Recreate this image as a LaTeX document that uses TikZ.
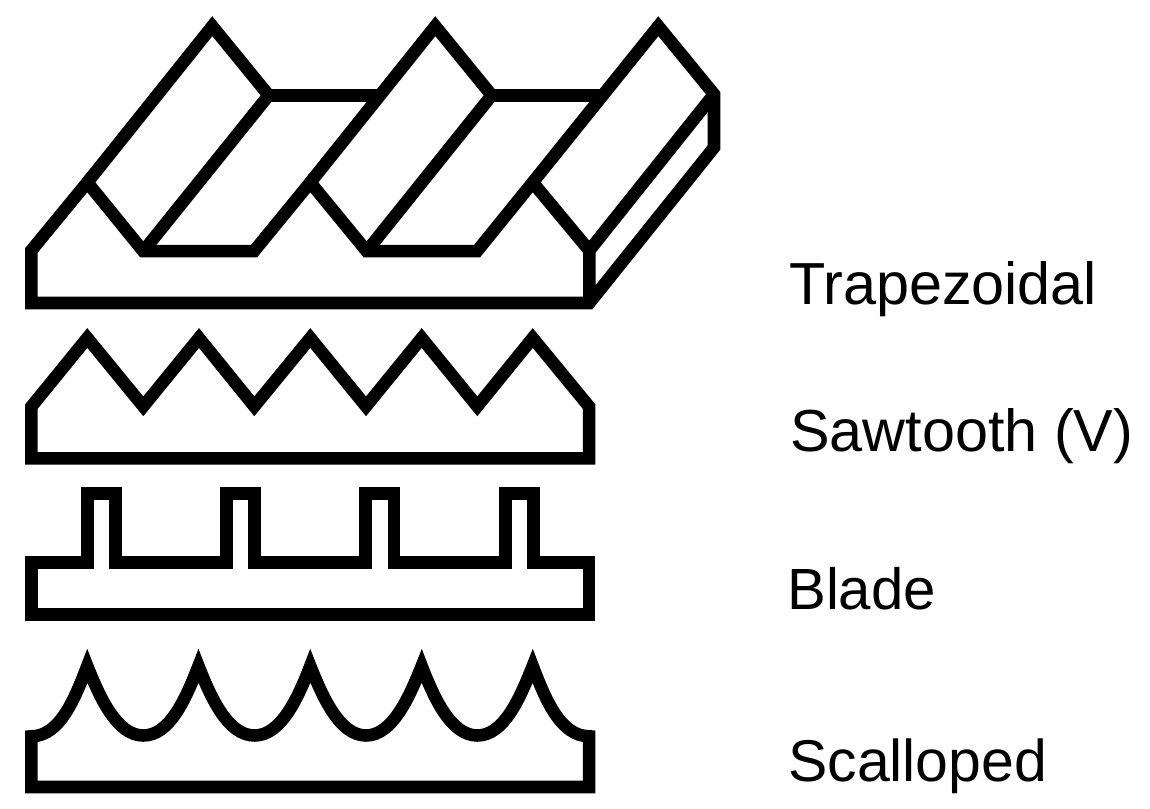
\documentclass[tikz,border=0pt]{standalone}
\usepackage{fontspec}
\setmainfont{Liberation Sans}
\tikzset{ln/.style={line width=9.4pt,line join=miter,miter limit=10,black},lab/.style={anchor=base west,font=\fontsize{44.5}{50}\selectfont,inner sep=0pt}}
\begin{document}
\begin{tikzpicture}[x=0.75pt,y=-0.75pt]
\useasboundingbox (0,0) rectangle (1150,808);
% trapezoidal
\draw[ln] (532.7,182.4) -- (658.3,26.2) -- (714,94.2) -- (714,147.5) -- (589.3,303) -- (31.3,303) -- (31.3,250.5) -- (87.3,182.4) -- (143.3,251.2) -- (254,251.2) -- (310.3,182.4) -- (366.7,251.2) -- (477,251.2) -- (532.7,182.4) -- (589.3,250.5) -- (589.3,303);
\draw[ln] (87.3,182.4) -- (212.3,26.2) -- (268.7,95.3) -- (143.3,251.2);
\draw[ln] (268.7,95.3) -- (380.7,95.3);
\draw[ln] (310.3,182.4) -- (435.3,26.2) -- (491.7,95.3) -- (366.7,251.2);
\draw[ln] (491.7,95.3) -- (603.5,95.3);
\draw[ln] (714,94.2) -- (589.3,250.5);
% sawtooth
\draw[ln] (31.3,458.3) -- (31.3,406.7) -- (87.3,338) -- (143.3,406.3) -- (199,338) -- (254.3,406.3) -- (310.3,338) -- (366,406.3) -- (421.7,338) -- (477.3,406.3) -- (532.7,338) -- (589.2,406.7) -- (589.2,458.3) -- cycle;
% blade
\draw[ln] (31.3,614.7) -- (31.3,562.3) -- (87.5,562.3) -- (87.5,493.3) -- (115.3,493.3) -- (115.3,562.3) -- (226.3,562.3) -- (226.3,493.3) -- (254.5,493.3) -- (254.5,562.3) -- (365.7,562.3) -- (365.7,493.3) -- (393.8,493.3) -- (393.8,562.3) -- (505.5,562.3) -- (505.5,493.3) -- (533.5,493.3) -- (533.5,562.3) -- (589.2,562.3) -- (589.2,614.7) -- cycle;
% scalloped
\draw[ln] (31.3,787) -- (31.3,736.3) .. controls (60,736.3) and (75,698) .. (87.3,666)
 .. controls (100,698) and (117,735.5) .. (143.3,735.5) .. controls (170,735.5) and (186,698) .. (198.5,666)
 .. controls (211,698) and (228,735.5) .. (254.5,735.5) .. controls (281,735.5) and (298,698) .. (310.3,666)
 .. controls (323,698) and (340,735.5) .. (366,735.5) .. controls (392,735.5) and (409,698) .. (421.7,666)
 .. controls (434,698) and (451,735.5) .. (477.3,735.5) .. controls (504,735.5) and (520,698) .. (532.7,666)
 .. controls (545,698) and (560,736.3) .. (589.2,736.3) -- (589.2,787) -- cycle;
\node[lab] (t1) at (789,304) {Trapezoidal};
\node[lab] (t2) at (790,451.5) {Sawtooth (V)};
\node[lab,font=\fontsize{43.6}{50}\selectfont] (t3) at (787,609) {Blade};
\node[lab,font=\fontsize{44.2}{50}\selectfont] (t4) at (788,781.5) {Scalloped};
\end{tikzpicture}
\end{document}
